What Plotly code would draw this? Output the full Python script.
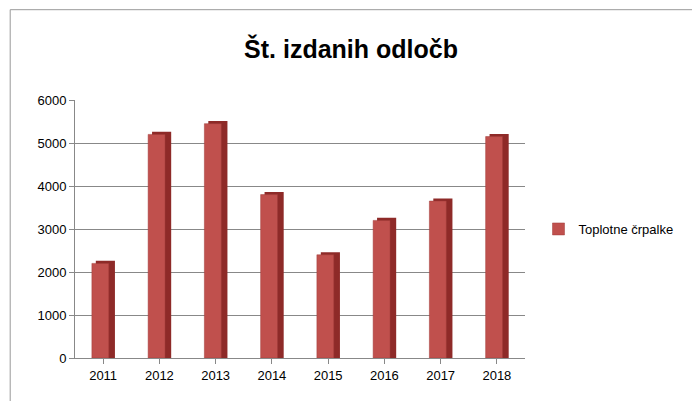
import plotly.graph_objects as go

years = ["2011","2012","2013","2014","2015","2016","2017","2018"]
values = [2200, 5200, 5450, 3800, 2400, 3200, 3650, 5150]
series_name = "Toplotne črpalke"

fig = go.Figure()
fig.add_trace(go.Bar(x=years, y=[v + 60 for v in values], width=0.34, offset=-0.13,
                     marker=dict(color="#8e2a28", line=dict(width=0)),
                     showlegend=False, hoverinfo="skip"))
fig.add_trace(go.Bar(x=years, y=values, width=0.3, offset=-0.2, name=series_name,
                     marker=dict(color="#c0504d", line=dict(color="#a03c3a", width=0.5))))

fig.update_layout(
    width=700, height=401, barmode="overlay",
    paper_bgcolor="white", plot_bgcolor="white",
    margin=dict(l=67, r=183, t=92, b=51),
    title=dict(text="<b>Št. izdanih odločb</b>", x=0.49, xanchor="center", y=0.92,
               font=dict(family="Liberation Sans, Arial", size=25, color="black")),
    font=dict(family="Liberation Sans, Arial", size=13, color="black"),
    legend=dict(x=1.03, y=0.5, yanchor="middle", font=dict(size=13)),
    xaxis=dict(showline=True, linecolor="#888", ticks="outside", tickcolor="#888"),
    yaxis=dict(range=[0, 6000], dtick=1000, showgrid=True, gridcolor="#888",
               showline=True, linecolor="#888", ticks="outside", tickcolor="#888"),
    shapes=[dict(type="rect", xref="paper", yref="paper", x0=-0.144, x1=1.4, y0=-0.19, y1=1.35,
                 line=dict(color="#999", width=1))],
)
fig.write_html("out.html")
